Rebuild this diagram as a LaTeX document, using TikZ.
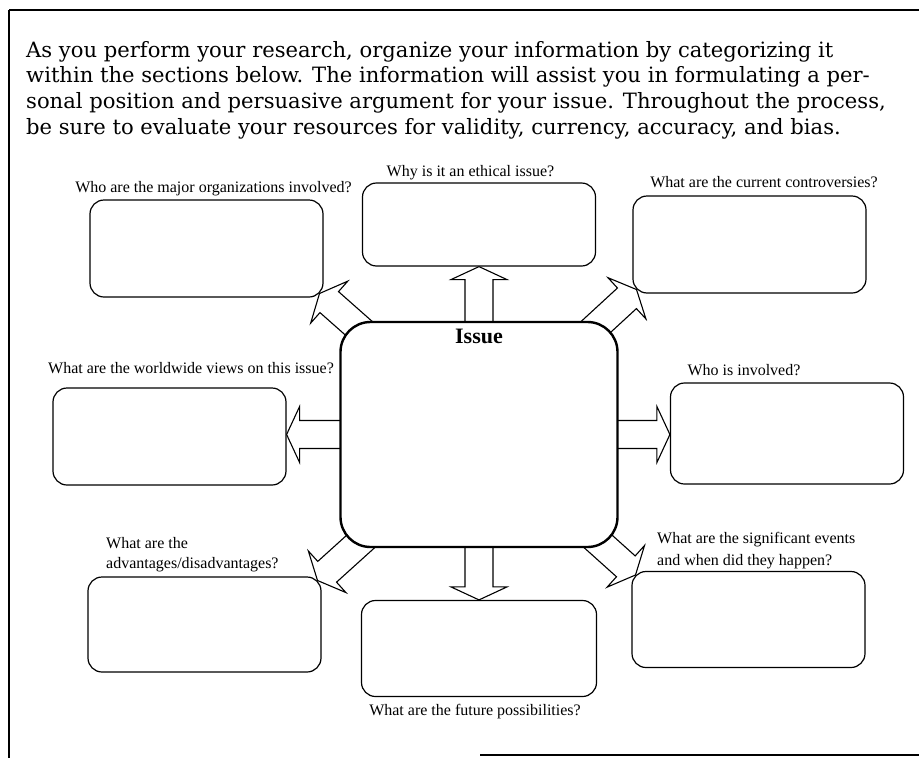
\documentclass[tikz,border=0pt]{standalone}
\usepackage{fontspec}
\setmainfont{Liberation Serif}
\newfontfamily\introfont{DejaVu Serif}
\usetikzlibrary{calc,backgrounds}
\tikzset{
 qbox/.style={draw,fill=white,rounded corners=14pt,line width=1.2pt,minimum width=233pt,minimum height=97pt,inner sep=0pt},
 issuebox/.style={draw,fill=white,rounded corners=30pt,line width=2.4pt,minimum width=277pt,minimum height=225pt,inner sep=0pt},
 qtext/.style={font=\fontsize{16}{20}\selectfont,inner sep=0pt,anchor=base},
 qtextleft/.style={qtext,anchor=base west},
 introtext/.style={font=\introfont\fontsize{21.1}{26}\selectfont,inner sep=0pt,anchor=base west},
 fatarrow/.style={draw,fill=white,line width=1.1pt,line join=miter},
}
% block arrow from #1 to tip #2
\newcommand\bigarrow[2]{%
 \draw[fatarrow] let \p1=(#1), \p2=(#2), \n1={atan2(\y2-\y1,\x2-\x1)} in
  ($(\p1)+(\n1+90:14pt)$) -- ($(\p2)+(\n1+180:13pt)+(\n1+90:14pt)$)
  -- ($(\p2)+(\n1+180:13pt)+(\n1+90:28pt)$) -- (\p2)
  -- ($(\p2)+(\n1+180:13pt)+(\n1-90:28pt)$) -- ($(\p2)+(\n1+180:13pt)+(\n1-90:14pt)$)
  -- ($(\p1)+(\n1-90:14pt)$) -- cycle;}
\begin{document}
\begin{tikzpicture}[x=1pt,y=-1pt]
\useasboundingbox (0,0) rectangle (919,758);
% frame
\draw[line width=2pt] (9,10) -- (919,10);
\draw[line width=1.3pt] (9,10) -- (9,758);
\draw[line width=1.4pt] (480,755) -- (919,755);
% intro
\node[introtext] (intro1) at (26,57) {As you perform your research, organize your information by categorizing it};
\node[introtext] (intro2) at (26,82.7) {within the sections below. The information will assist you in formulating a per-};
\node[introtext] (intro3) at (26,108.4) {sonal position and persuasive argument for your issue. Throughout the process,};
\node[introtext] (intro4) at (26,134.1) {be sure to evaluate your resources for validity, currency, accuracy, and bias.};
% boxes
\node[issuebox] (issue) at (479,434.5) {};
\node[font=\bfseries\fontsize{22}{26}\selectfont,inner sep=0pt,anchor=base] (issuetitle) at ([yshift=-23pt]issue.north) {Issue};
\node[qbox] (orgs) at (206.5,248.5) {};
\node[qbox,minimum height=83pt] (ethic) at (479,224.5) {};
\node[qbox] (contro) at (749.5,244.5) {};
\node[qbox] (world) at (169.5,436.5) {};
\node[qbox,minimum height=101pt] (who) at (787,433.5) {};
\node[qbox,minimum height=95pt] (advant) at (204.5,624.5) {};
\node[qbox,minimum width=235pt,minimum height=96pt] (future) at (479,648.5) {};
\node[qbox,minimum height=96pt] (events) at (748.5,619.5) {};
% questions
\node[qtext] (orgsq) at (213.5,192) {Who are the major organizations involved?};
\node[qtext] (ethicq) at (470.5,176) {Why is it an ethical issue?};
\node[qtext] (controq) at (764,187) {What are the current controversies?};
\node[qtext] (worldq) at (191,373) {What are the worldwide views on this issue?};
\node[qtext] (whoq) at (744,375) {Who is involved?};
\node[qtextleft] (advq1) at (106,548) {What are the};
\node[qtextleft] (advq2) at (106,568) {advantages/disadvantages?};
\node[qtext] (futureq) at (475,715) {What are the future possibilities?};
\node[qtextleft] (eventsq1) at (657,543) {What are the significant events};
\node[qtextleft] (eventsq2) at (657,565) {and when did they happen?};
% arrow tips
\coordinate (orgstip) at ($(orgs.south east)+(-4.1pt,4.1pt)$);
\coordinate (controtip) at ($(contro.south west)+(4.1pt,4.1pt)$);
\coordinate (advtip) at ($(advant.north east)+(-4.1pt,-4.1pt)$);
\coordinate (eventstip) at ($(events.north west)+(4.1pt,-4.1pt)$);
\begin{scope}[on background layer]
\bigarrow{issue.center}{issue |- ethic.south}
\bigarrow{issue.center}{issue |- future.north}
\bigarrow{issue.center}{world.east |- issue}
\bigarrow{issue.center}{who.west |- issue}
\bigarrow{issue.center}{orgstip}
\bigarrow{issue.center}{controtip}
\bigarrow{issue.center}{advtip}
\bigarrow{issue.center}{eventstip}
\end{scope}
\end{tikzpicture}
\end{document}
